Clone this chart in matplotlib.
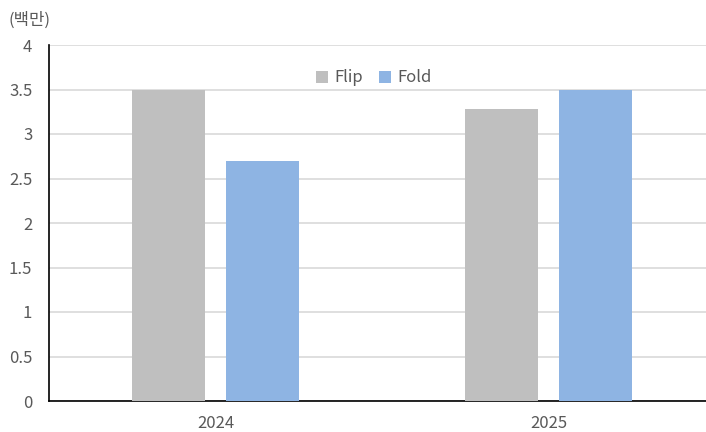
import matplotlib
matplotlib.use('Agg')
import numpy as np
from matplotlib import pyplot as plt

plt.rcParams['font.family'] = ['Noto Sans CJK KR', 'DejaVu Sans']

# data
years = ['2024', '2025']
flip = [3.5, 3.28]
fold = [2.7, 3.5]
yticks = [0, 0.5, 1, 1.5, 2, 2.5, 3, 3.5, 4]
ytick_labels = ['0', '0.5', '1', '1.5', '2', '2.5', '3', '3.5', '4']

text_color = '#595959'
fs = 12

fig = plt.figure(figsize=(7.06, 4.32), dpi=100)
ax = fig.add_axes([49 / 706, 31 / 432, 666 / 706, 356 / 432])

x = np.arange(len(years))
w = 0.22
ax.bar(x - 0.141, flip, w, color='#bfbfbf', label='Flip', zorder=3)
ax.bar(x + 0.141, fold, w, color='#8eb4e3', label='Fold', zorder=3)

ax.set_xlim(-0.5, 1.5)
ax.set_ylim(0, 4)
ax.set_xticks(x)
ax.set_xticklabels(years)
ax.set_yticks(yticks)
ax.set_yticklabels(ytick_labels)
ax.tick_params(axis='both', length=0, labelsize=fs, colors=text_color)
ax.tick_params(axis='y', pad=12)
ax.tick_params(axis='x', pad=10)

ax.grid(axis='y', color='#d9d9d9', linewidth=1.2, zorder=0)
for s in ['top', 'right']:
    ax.spines[s].set_visible(False)
ax.spines['left'].set_color('black')
ax.spines['bottom'].set_color('black')
ax.spines['left'].set_linewidth(1.2)
ax.spines['bottom'].set_linewidth(1.2)

leg = ax.legend(loc='center', bbox_to_anchor=(374 / 706, 1 - 78 / 432),
                bbox_transform=fig.transFigure, ncol=2, frameon=False,
                fontsize=fs, handlelength=0.7, handleheight=0.7,
                handletextpad=0.4, columnspacing=1.0)
for t in leg.get_texts():
    t.set_color(text_color)

fig.text(8 / 706, 1 - 20 / 432, '(백만)', fontsize=fs, color=text_color,
         va='center', ha='left')

fig.savefig('out.png', dpi=100)
